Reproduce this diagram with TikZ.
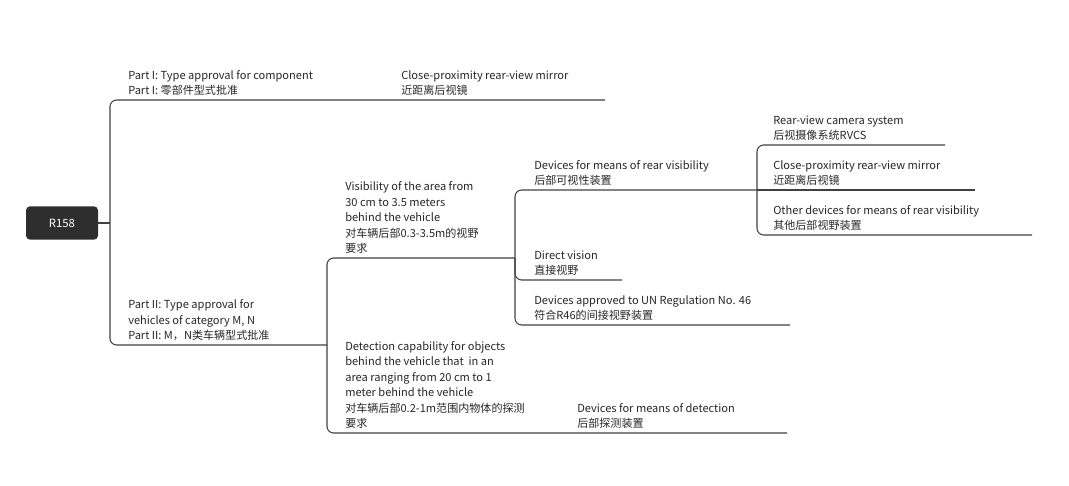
\documentclass[tikz,border=0pt]{standalone}
\usepackage{fontspec}
\setmainfont{Noto Sans CJK SC}
\begin{document}
\begin{tikzpicture}[x=0.75pt,y=-0.75pt,
    line/.style={draw=black!75,line width=0.8pt,rounded corners=5pt},
    topic/.style={anchor=south west,inner sep=0pt,align=left,
      font=\fontsize{8.3pt}{11.6pt}\selectfont,text=black!85},
    root/.style={fill=black!82,rounded corners=3pt,text=white,
      minimum width=54pt,minimum height=25pt,font=\fontsize{8.5pt}{10pt}\selectfont}]
  \useasboundingbox (0,0) rectangle (1069,485);

  % root
  \node[root] (r158) at (62,223) {R158};
  \coordinate (hubA) at (110,223);
  \draw[line] (r158.east) -- (hubA);

  % Part I
  \node[topic] (part1) at (128,96) {Part I: Type approval for component\\Part I: 零部件型式批准};
  \node[topic] (mirrorA) at (401,96) {Close-proximity rear-view mirror\\近距离后视镜};
  \coordinate (endA) at (605,100);
  \draw[line] (hubA) |- (endA);

  % Part II
  \node[topic] (part2) at (128,341) {Part II: Type approval for\\vehicles of category M, N\\Part II: M，N类车辆型式批准};
  \coordinate (hubB) at (327,345);
  \draw[line] (hubA) |- (hubB);

  % visibility
  \node[topic] (visib) at (345,254) {Visibility of the area from\\30 cm to 3.5 meters\\behind the vehicle\\对车辆后部0.3-3.5m的视野\\要求};
  \coordinate (hubC) at (515,258);
  \draw[line] (hubB) |- (hubC);

  % detection
  \node[topic] (detect) at (345,429) {Detection capability for objects\\behind the vehicle that\ \ in an\\area ranging from 20 cm to 1\\meter behind the vehicle\\对车辆后部0.2-1m范围内物体的探测\\要求};
  \node[topic] (detdev) at (577,429) {Devices for means of detection\\后部探测装置};
  \coordinate (endB) at (787,433);
  \draw[line] (hubB) |- (endB);

  % under visibility
  \node[topic] (rearvis) at (534,186) {Devices for means of rear visibility\\后部可视性装置};
  \node[topic] (direct) at (534,276) {Direct vision\\直接视野};
  \node[topic] (r46) at (534,321) {Devices approved to UN Regulation No. 46\\符合R46的间接视野装置};
  \coordinate (hubD) at (757,190);
  \coordinate (endC) at (622,280);
  \coordinate (endD) at (790,325);
  \draw[line] (hubC) |- (hubD);
  \draw[line] (hubC) |- (endC);
  \draw[line] (hubC) |- (endD);

  % under rear visibility
  \node[topic] (camera) at (773,141) {Rear-view camera system\\后视摄像系统RVCS};
  \node[topic] (mirrorB) at (773,186) {Close-proximity rear-view mirror\\近距离后视镜};
  \node[topic] (other) at (773,231) {Other devices for means of rear visibility\\其他后部视野装置};
  \coordinate (endE) at (945,145);
  \coordinate (endF) at (975,190);
  \coordinate (endG) at (1032,235);
  \draw[line] (hubD) |- (endE);
  \draw[line] (hubD) -- (endF);
  \draw[line] (hubD) |- (endG);
\end{tikzpicture}
\end{document}
